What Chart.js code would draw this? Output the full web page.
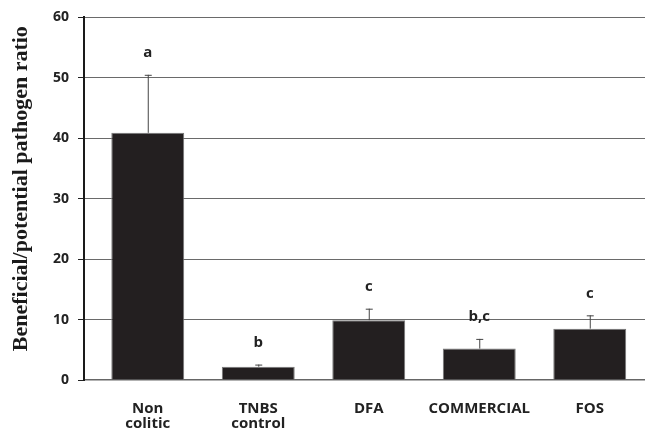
<!DOCTYPE html>
<html>
<head>
<meta charset="utf-8">
<script src="https://cdn.jsdelivr.net/npm/chart.js@4/dist/chart.umd.min.js"></script>
<style>
  html, body { margin: 0; padding: 0; background: #fff; }
  #wrap { width: 645px; height: 439px; }
</style>
</head>
<body>
<div id="wrap"><canvas id="ratioChart"></canvas></div>
<script>
// Groups and measured ratios
const groups = [["Non", "colitic"], ["TNBS", "control"], "DFA", "COMMERCIAL", "FOS"];
const ratios = [40.9, 2.2, 9.9, 5.2, 8.5];
const errors = [9.6, 0.35, 1.9, 1.6, 2.2];
const letters = ["a", "b", "c", "b,c", "c"];
const yTicks = [0, 10, 20, 30, 40, 50, 60];
const yTitle = "Beneficial/potential pathogen ratio";

const yTickFont = { family: "'Open Sans', sans-serif", size: 14, weight: "bold" };
const xTickFont = { family: "'Open Sans', sans-serif", size: 15, weight: "bold", lineHeight: 0.95 };

// Upward error bars plus significance letters above each bar
const errorBarPlugin = {
  id: "errorBars",
  afterDatasetsDraw(chart) {
    const ctx = chart.ctx;
    const y = chart.scales.y;
    const meta = chart.getDatasetMeta(0);
    ctx.save();
    meta.data.forEach((bar, i) => {
      const top = y.getPixelForValue(ratios[i] + errors[i]);
      const base = y.getPixelForValue(ratios[i]);
      ctx.strokeStyle = "#444";
      ctx.lineWidth = 1;
      ctx.beginPath();
      ctx.moveTo(bar.x + 0.5, base);
      ctx.lineTo(bar.x + 0.5, top);
      ctx.moveTo(bar.x - 3, top + 0.5);
      ctx.lineTo(bar.x + 4, top + 0.5);
      ctx.stroke();

      ctx.fillStyle = "#222";
      ctx.font = "bold 15px 'Open Sans', sans-serif";
      ctx.textAlign = "center";
      ctx.textBaseline = "middle";
      ctx.fillText(letters[i], bar.x, top - 22);
    });
    ctx.restore();
  }
};

// Rotated y-axis title, drawn a little above the plot's middle
const yTitlePlugin = {
  id: "yTitle",
  afterDraw(chart) {
    const ctx = chart.ctx;
    const area = chart.chartArea;
    ctx.save();
    ctx.translate(21, (area.top + area.bottom) / 2 - 10);
    ctx.rotate(-Math.PI / 2);
    ctx.fillStyle = "#1a1a1a";
    ctx.font = "bold 22px 'Liberation Serif', 'Times New Roman', serif";
    ctx.textAlign = "center";
    ctx.textBaseline = "middle";
    ctx.fillText(yTitle, 0, 0);
    ctx.restore();
  }
};

new Chart(document.getElementById("ratioChart"), {
  type: "bar",
  data: {
    datasets: [{
      data: ratios.map((v, i) => ({ x: i, y: v })),
      backgroundColor: "#231f20",
      borderColor: "#777",
      borderWidth: 1,
      categoryPercentage: 1,
      barPercentage: 0.66
    }]
  },
  options: {
    responsive: true,
    maintainAspectRatio: false,
    animation: false,
    layout: { padding: { top: 17, right: 0, left: 0, bottom: 0 } },
    plugins: {
      legend: { display: false },
      tooltip: { enabled: false }
    },
    scales: {
      x: {
        type: "linear",
        min: -0.577,
        max: 4.5,
        offset: false,
        afterBuildTicks: (s) => { s.ticks = groups.map((g, i) => ({ value: i })); },
        grid: { display: false },
        border: { color: "#666", width: 1.5 },
        ticks: {
          color: "#222",
          font: xTickFont,
          padding: 14,
          maxRotation: 0,
          autoSkip: false,
          callback: (v) => groups[v]
        },
        afterFit: (s) => { s.height = 59; }
      },
      y: {
        min: 0,
        max: 60,
        afterBuildTicks: (s) => { s.ticks = yTicks.map((v) => ({ value: v })); },
        grid: {
          color: (c) => (c.tick && c.tick.value === 0 ? "rgba(0,0,0,0)" : "#6a6a6a"),
          tickColor: "#222",
          tickLength: 6,
          lineWidth: 1
        },
        border: { color: "#1a1a1a", width: 2 },
        ticks: { color: "#222", font: yTickFont, padding: 9 },
        afterFit: (s) => { s.width = 84; }
      }
    }
  },
  plugins: [errorBarPlugin, yTitlePlugin]
});
</script>
</body>
</html>
